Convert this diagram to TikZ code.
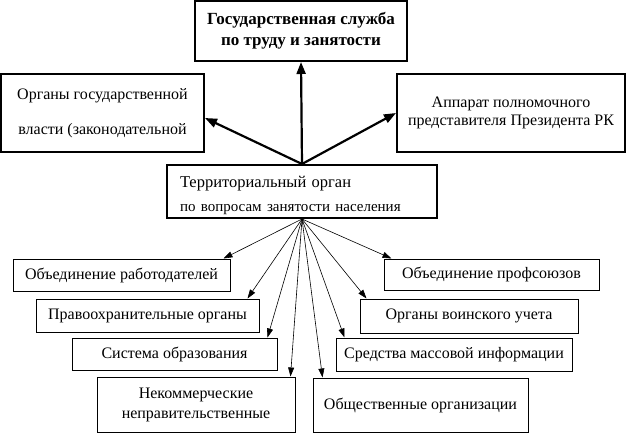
\documentclass[tikz,border=0pt]{standalone}
\usepackage{fontspec}
\setmainfont{Liberation Serif}
\usetikzlibrary{arrows.meta}

\tikzset{
  box/.style={draw,line width=1pt,inner sep=0pt,align=center,font=\fontsize{16}{20}\selectfont},
  thickbox/.style={box,line width=2pt},
  bigarrow/.style={-{Triangle[length=12pt,width=9pt]},line width=2.2pt},
  thinarrow/.style={-{Triangle[length=9pt,width=6pt]},line width=0.6pt}
}

\begin{document}
\begin{tikzpicture}[x=1pt,y=-1pt]
  \useasboundingbox (0,0) rectangle (627,434);
  % upper level
  \node[thickbox,minimum width=212pt,minimum height=60pt,font=\bfseries\fontsize{17}{21}\selectfont] (gos) at (301,31) {Государственная служба\\по труду и занятости};
  \node[thickbox,minimum width=203pt,minimum height=78pt,font=\fontsize{16}{19}\selectfont] (organy) at (102.5,113) {Органы государственной\\[16pt]власти (законодательной};
  \node[thickbox,minimum width=228pt,minimum height=78pt,font=\fontsize{16}{18}\selectfont] (apparat) at (511,113) {Аппарат полномочного\\представителя Президента РК};
  \node[thickbox,minimum width=270pt,minimum height=53pt,text width=244pt,align=left] (terr) at (302,191.5) {{\fontsize{16.5}{18}\selectfont\rule{0pt}{20pt}Территориальный орган}\\[4pt]{\fontsize{15}{16}\selectfont по вопросам занятости населения}};
  \draw[bigarrow] (terr.north) -- (gos.south);
  \draw[bigarrow] (terr.north) -- ([yshift=-5pt]organy.east);
  \draw[bigarrow] (terr.north) -- (apparat.west);
  % lower level
  \foreach \n/\x/\y/\w/\h/\t in {
      rab/121.5/275/217/32/{Объединение работодателей},
      pravo/147.5/315.5/223/33/{Правоохранительные органы},
      sist/174.5/354/205/32/{Система образования},
      nekom/196/404.5/198/55/{Некоммерческие\\неправительственные},
      prof/491.5/274.5/215/31/{Объединение профсоюзов},
      voin/469/316/218/34/{Органы воинского учета},
      smi/454/354.5/236/33/{Средства массовой информации},
      obsh/420.5/405/215/54/{Общественные организации}} {
    \node[box,minimum width=\w pt,minimum height=\h pt] (\n) at (\x,\y) {\t};
  }
  \foreach \n/\s/\a in {rab/-7/north east,pravo/-12/north east,sist/-10/north east,nekom/-5/north east,
      prof/8/north west,voin/7/north west,smi/9/north west,obsh/10/north west} {
    \draw[thinarrow] (terr.south) -- ([xshift=\s pt]\n.\a);
  }
\end{tikzpicture}
\end{document}
